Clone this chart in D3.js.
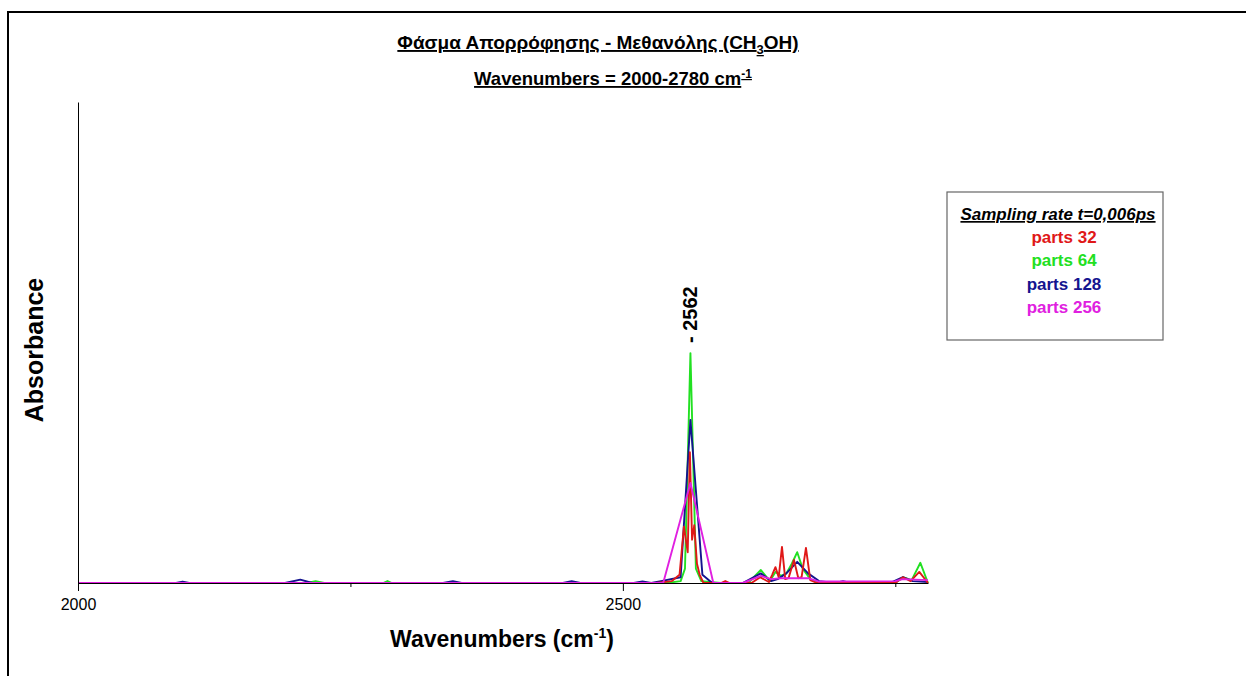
<!DOCTYPE html>
<html>
<head>
<meta charset="utf-8">
<script src="https://cdn.jsdelivr.net/npm/d3@7"></script>
<style>
  body { margin: 0; background: #fff; }
  svg { display: block; font-family: "Liberation Sans", Arial, sans-serif; }
  .axis path, .axis line { stroke: #000; }
</style>
</head>
<body>
<script>
// Data - absorbance in arbitrary units
var wnRed  = [2000, 2530, 2545, 2552, 2556, 2559.5, 2561.5, 2563.5, 2565.5, 2568, 2570.5, 2574, 2590, 2594, 2598, 2618, 2626, 2634, 2637, 2640, 2643, 2646, 2649, 2652, 2657, 2661, 2664, 2668, 2672, 2678, 2700, 2750, 2757, 2764, 2772, 2780];
var absRed = [0, 0, 0.004, 0.017, 0.117, 0.064, 0.272, 0.09, 0.12, 0.04, 0.017, 0, 0, 0.004, 0, 0, 0.012, 0.002, 0.017, 0.033, 0.012, 0.075, 0.008, 0.01, 0.048, 0.01, 0.012, 0.073, 0.006, 0, 0, 0, 0.012, 0.004, 0.023, 0];

var wnGreen  = [2000, 2210, 2218, 2226, 2280, 2284, 2288, 2540, 2553, 2557, 2562, 2567, 2572, 2590, 2615, 2626.6, 2635, 2640, 2645, 2650, 2655, 2660, 2665, 2672, 2680, 2700, 2750, 2757, 2765, 2773, 2780];
var absGreen = [0, 0, 0.004, 0, 0, 0.004, 0, 0, 0.004, 0.03, 0.478, 0.03, 0.004, 0, 0, 0.027, 0.004, 0.023, 0.015, 0.02, 0.04, 0.064, 0.03, 0.008, 0, 0, 0, 0.012, 0.006, 0.042, 0];

var wnBlue  = [2000, 2090, 2096, 2102, 2190, 2204, 2215, 2335, 2344, 2352, 2445, 2453, 2461, 2510, 2518, 2526, 2535, 2553, 2562, 2573, 2582, 2610, 2626.6, 2636, 2642, 2650, 2660, 2670, 2680, 2695, 2702, 2709, 2720, 2727, 2734, 2745, 2757, 2766, 2780];
var absBlue = [0, 0, 0.003, 0, 0, 0.007, 0, 0, 0.004, 0, 0, 0.004, 0, 0, 0.003, 0, 0.004, 0.012, 0.339, 0.017, 0, 0, 0.02, 0.004, 0.008, 0.02, 0.044, 0.02, 0.004, 0, 0.004, 0, 0, 0.002, 0, 0, 0.012, 0.004, 0.002];

var wnMagenta  = [2000, 2537, 2562, 2583, 2610, 2626.6, 2636, 2645, 2670, 2680, 2750, 2757, 2780];
var absMagenta = [0, 0, 0.208, 0, 0, 0.015, 0.008, 0.01, 0.01, 0.003, 0.004, 0.008, 0.006];

var legendLabels = ["parts 32", "parts 64", "parts 128", "parts 256"];
var majorTicks = [2000, 2500];
var minorTicks = [2250, 2750];
var peakLabel = 2562;

// series in draw order (magenta ends up on top)
var series = [
  {name: "parts 64",  wn: wnGreen,   abs: absGreen,   color: "#22e022"},
  {name: "parts 128", wn: wnBlue,    abs: absBlue,    color: "#14148f"},
  {name: "parts 32",  wn: wnRed,     abs: absRed,     color: "#e01818"},
  {name: "parts 256", wn: wnMagenta, abs: absMagenta, color: "#e020e0"}
];
var colorOf = {};
series.forEach(function(s) { colorOf[s.name] = s.color; });

var W = 1246, H = 676;
var svg = d3.select("body").append("svg")
    .attr("width", W)
    .attr("height", H);

// page frame (left + top)
svg.append("path")
    .attr("d", "M8,676 L8,12 L1246,12")
    .attr("fill", "none")
    .attr("stroke", "#000")
    .attr("stroke-width", 2);

//Define Scales
var xScale = d3.scaleLinear().domain([2000, 2780]).range([78, 928]);
var yScale = d3.scaleLinear().domain([0, 1]).range([583, 102]);

// Titles
var t1 = svg.append("text")
    .attr("x", 598).attr("y", 49)
    .attr("text-anchor", "middle")
    .attr("font-size", "19px")
    .attr("font-weight", "bold")
    .style("text-decoration", "underline");
t1.append("tspan").text("Φάσμα Απορρόφησης - Μεθανόλης (CH");
t1.append("tspan").attr("font-size", "13px").attr("dy", 5).text("3");
t1.append("tspan").attr("dy", -5).text("OH)");

var t2 = svg.append("text")
    .attr("x", 613).attr("y", 85)
    .attr("text-anchor", "middle")
    .attr("font-size", "18.5px")
    .attr("font-weight", "bold")
    .style("text-decoration", "underline");
t2.append("tspan").text("Wavenumbers = 2000-2780 cm");
t2.append("tspan").attr("font-size", "12px").attr("dy", -7).text("-1");

// Lines
var line = d3.line()
    .x(function(d) { return xScale(d[0]); })
    .y(function(d) { return yScale(d[1]); });

svg.selectAll(".spectrum")
    .data(series)
    .enter().append("path")
    .attr("class", "spectrum")
    .attr("fill", "none")
    .attr("stroke", function(d) { return d.color; })
    .attr("stroke-width", 1.9)
    .attr("stroke-linejoin", "round")
    .attr("d", function(d) { return line(d3.zip(d.wn, d.abs)); });

// x-axis
svg.append("g")
    .attr("class", "axis")
    .attr("transform", "translate(0," + yScale(0) + ")")
    .call(d3.axisBottom(xScale).tickValues(majorTicks).tickSize(8).tickSizeOuter(0).tickFormat(d3.format("d")))
    .call(function(g) {
      g.attr("font-size", null).attr("font-family", null);
      g.selectAll("text").style("font-size", "16px").attr("dy", "1.0em");
    });
svg.append("g")
    .attr("class", "axis")
    .attr("transform", "translate(0," + yScale(0) + ")")
    .call(d3.axisBottom(xScale).tickValues(minorTicks).tickSize(4).tickSizeOuter(0).tickFormat(""))
    .select(".domain").remove();

// y-axis
svg.append("g")
    .attr("class", "axis")
    .attr("transform", "translate(" + xScale(2000) + ",0)")
    .call(d3.axisLeft(yScale).tickValues([]).tickSizeOuter(0));

// axis labels
var xl = svg.append("text")
    .attr("x", 502).attr("y", 647)
    .attr("text-anchor", "middle")
    .attr("font-size", "23px")
    .attr("font-weight", "bold");
xl.append("tspan").text("Wavenumbers (cm");
xl.append("tspan").attr("font-size", "14px").attr("dy", -9).text("-1");
xl.append("tspan").attr("dy", 9).text(")");

svg.append("text")
    .attr("transform", "translate(43,350) rotate(-90)")
    .attr("text-anchor", "middle")
    .attr("font-size", "25px")
    .attr("font-weight", "bold")
    .text("Absorbance");

// peak annotation
svg.append("text")
    .attr("transform", "translate(" + xScale(peakLabel) + "," + (yScale(d3.max(absGreen)) - 10) + ") rotate(-90)")
    .attr("dy", "0.35em")
    .attr("font-size", "20px")
    .attr("font-weight", "bold")
    .text("- " + peakLabel);

// Legend
var lg = svg.append("g");
lg.append("rect")
    .attr("x", 947).attr("y", 192)
    .attr("width", 216).attr("height", 148)
    .attr("fill", "#fff")
    .attr("stroke", "#666")
    .attr("stroke-width", 1.2);
lg.append("text")
    .attr("x", 1058).attr("y", 220)
    .attr("text-anchor", "middle")
    .attr("font-size", "17px")
    .attr("font-weight", "bold")
    .attr("font-style", "italic")
    .style("text-decoration", "underline")
    .text("Sampling rate t=0,006ps");
lg.selectAll(".lgItem")
    .data(legendLabels)
    .enter().append("text")
    .attr("class", "lgItem")
    .attr("x", 1064)
    .attr("y", function(d, i) { return 243 + i * 23.3; })
    .attr("text-anchor", "middle")
    .attr("font-size", "17px")
    .attr("font-weight", "bold")
    .attr("fill", function(d) { return colorOf[d]; })
    .text(function(d) { return d; });
</script>
</body>
</html>
